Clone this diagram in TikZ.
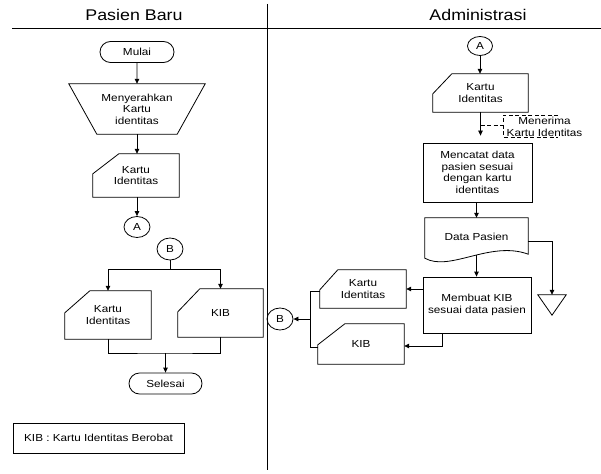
\documentclass[tikz,border=0pt]{standalone}
\usepackage{fontspec}
\setmainfont{Liberation Sans}[FakeStretch=1.15]
\usetikzlibrary{arrows.meta,shapes.geometric,shapes.misc}

% outline of a punched-card symbol around a holder node: #2 = cut width, #3 = cut height
\newcommand\drawcard[3]{%
  \draw[line] ([xshift=#2]#1.north west) -- (#1.north east) -- (#1.south east)
    -- (#1.south west) -- ([yshift=-#3]#1.north west) -- cycle;}

\begin{document}
\begin{tikzpicture}[x=1pt,y=-1pt,
  line/.style={draw=black, line width=0.8pt},
  flow/.style={line, -{Triangle[length=5pt,width=4.5pt]}},
  lbl/.style={inner sep=0pt, align=center, font=\fontsize{10.2}{11.5}\selectfont},
  holder/.style={lbl, draw=none, minimum width=#1},
  term/.style={lbl, line, rounded rectangle, minimum height=21pt},
  conn/.style={lbl, line, ellipse, minimum width=26pt, minimum height=21pt},
  procbox/.style={lbl, line, rectangle},
  head/.style={inner sep=0pt, font=\fontsize{15.5}{18}\selectfont},
  note/.style={draw=black, line width=0.6pt, dash pattern=on 4pt off 2.5pt},
]
\useasboundingbox (0,0) rectangle (601,473);

% swimlanes
\draw[line] (12,28) -- (601,28);
\draw[line] (267,4) -- (267,470);
\node[head] (laneA) at (134,15) {Pasien Baru};
\node[head] (laneB) at (478,15) {Administrasi};

% ---------- Pasien Baru ----------
\node[term, minimum width=74pt] (mulai) at (137,52) {Mulai};

\node[holder=136pt, minimum height=50pt] (serah) at (137,109)
  {Menyerahkan\\Kartu\\identitas};
\draw[line] (serah.north west) -- (serah.north east)
  -- ([xshift=-28pt]serah.south east) -- ([xshift=28pt]serah.south west) -- cycle;

\node[holder=86pt, minimum height=43pt] (kartuA) at (136,175.5) {Kartu\\Identitas};
\drawcard{kartuA}{26pt}{20pt}

\node[conn] (conA) at (137,227) {A};

\draw[flow] (mulai) -- (serah);
\draw[flow] (serah.south) -- (serah.south |- kartuA.north);
\draw[flow] (kartuA.south -| conA) -- (conA);

\node[conn, minimum height=22pt] (conB) at (170,249) {B};
\coordinate (split) at (170,269);

\node[holder=86pt, minimum height=48pt] (kartuB) at (108,315) {Kartu\\Identitas};
\drawcard{kartuB}{25pt}{22pt}

\node[holder=85pt, minimum height=48pt] (kibA) at (220.5,313) {KIB};
\drawcard{kibA}{22pt}{23pt}

\node[term, minimum width=73pt] (selesai) at (165.5,383.5) {Selesai};
\coordinate (merge) at (165.5,353);

\draw[line] (conB) -- (split);
\draw[flow] (split) -| (kartuB.north);
\draw[flow] (split) -| (kibA.north);
\draw[line] (kartuB.south) |- (merge) -| (kibA.south);
\draw[flow] (merge) -- (selesai);

\node[lbl, line, minimum width=171pt, minimum height=30pt] (legend) at (98.5,438)
  {KIB : Kartu Identitas Berobat};

% ---------- Administrasi ----------
\node[conn, minimum width=25pt, minimum height=19pt] (conA2) at (480,46) {A};

\node[holder=95pt, minimum height=38pt] (kartuC) at (480.5,93) {Kartu\\Identitas};
\drawcard{kartuC}{19pt}{20pt}

\node[procbox, minimum width=109pt, minimum height=59pt] (catat) at (477.5,172.5)
  {Mencatat data\\pasien sesuai\\dengan kartu\\identitas};

\draw[flow] (conA2) -- (conA2 |- kartuC.north);
\draw[flow, shorten >=7pt] (kartuC.south) -- (kartuC.south |- catat.north);

% annotation on the incoming card
\coordinate (brMid) at (503,125);
\coordinate (brTop) at (503,115);
\coordinate (brBot) at (503,137);
\coordinate (brTopEnd) at (558,115);
\coordinate (brBotEnd) at (558,137);
\draw[note] (kartuC.south |- brMid) -- (brMid);
\draw[note] (brTopEnd) -- (brTop) -- (brBot) -- (brBotEnd);
\node[lbl, font=\fontsize{10.2}{12}\selectfont] (noteText) at (544.5,127)
  {Menerima\\Kartu Identitas};

% document symbol
\node[holder=103pt, minimum height=38pt] (dp) at (476.5,237) {Data Pasien};
\draw[line] (dp.north west) -- (dp.north east) -- ([yshift=2pt]dp.south east)
  .. controls ([xshift=-38pt,yshift=16pt]dp.south east)
  and ([xshift=25pt,yshift=-16pt]dp.south west) .. ([yshift=-2pt]dp.south west) -- cycle;
\draw[flow] (catat.south -| dp.north) -- (dp.north);

% off-line storage
\node[holder=28pt, minimum height=20pt] (arsip) at (552,305) {};
\draw[line] (arsip.north west) -- (arsip.north east) -- (arsip.south) -- cycle;
\draw[flow] ([yshift=-4pt]dp.east) -| (arsip.north);

\node[procbox, minimum width=108pt, minimum height=56pt] (buat) at (477,305)
  {Membuat KIB\\sesuai data pasien};
\draw[flow] ([yshift=1pt]dp.south) -- (dp.south |- buat.north);

\node[holder=86pt, minimum height=38pt] (kartuD) at (363,289) {Kartu\\Identitas};
\drawcard{kartuD}{18pt}{20pt}

\node[holder=86pt, minimum height=40pt] (kibB) at (361,344) {KIB};
\drawcard{kibB}{27pt}{21pt}

\node[conn, minimum height=22pt] (conB2) at (280,319) {B};
\coordinate (gath) at (310,319);

\draw[flow] (buat.west |- kartuD.east) -- (kartuD.east);
\draw[flow] ([xshift=20pt]buat.south west) |- ([yshift=-2pt]kibB.east);
\draw[line] ([yshift=-2pt]kartuD.west) -| (gath);
\draw[line] ([yshift=-3pt]kibB.west) -| (gath);
\draw[flow] (gath) -- (conB2);
\end{tikzpicture}
\end{document}
